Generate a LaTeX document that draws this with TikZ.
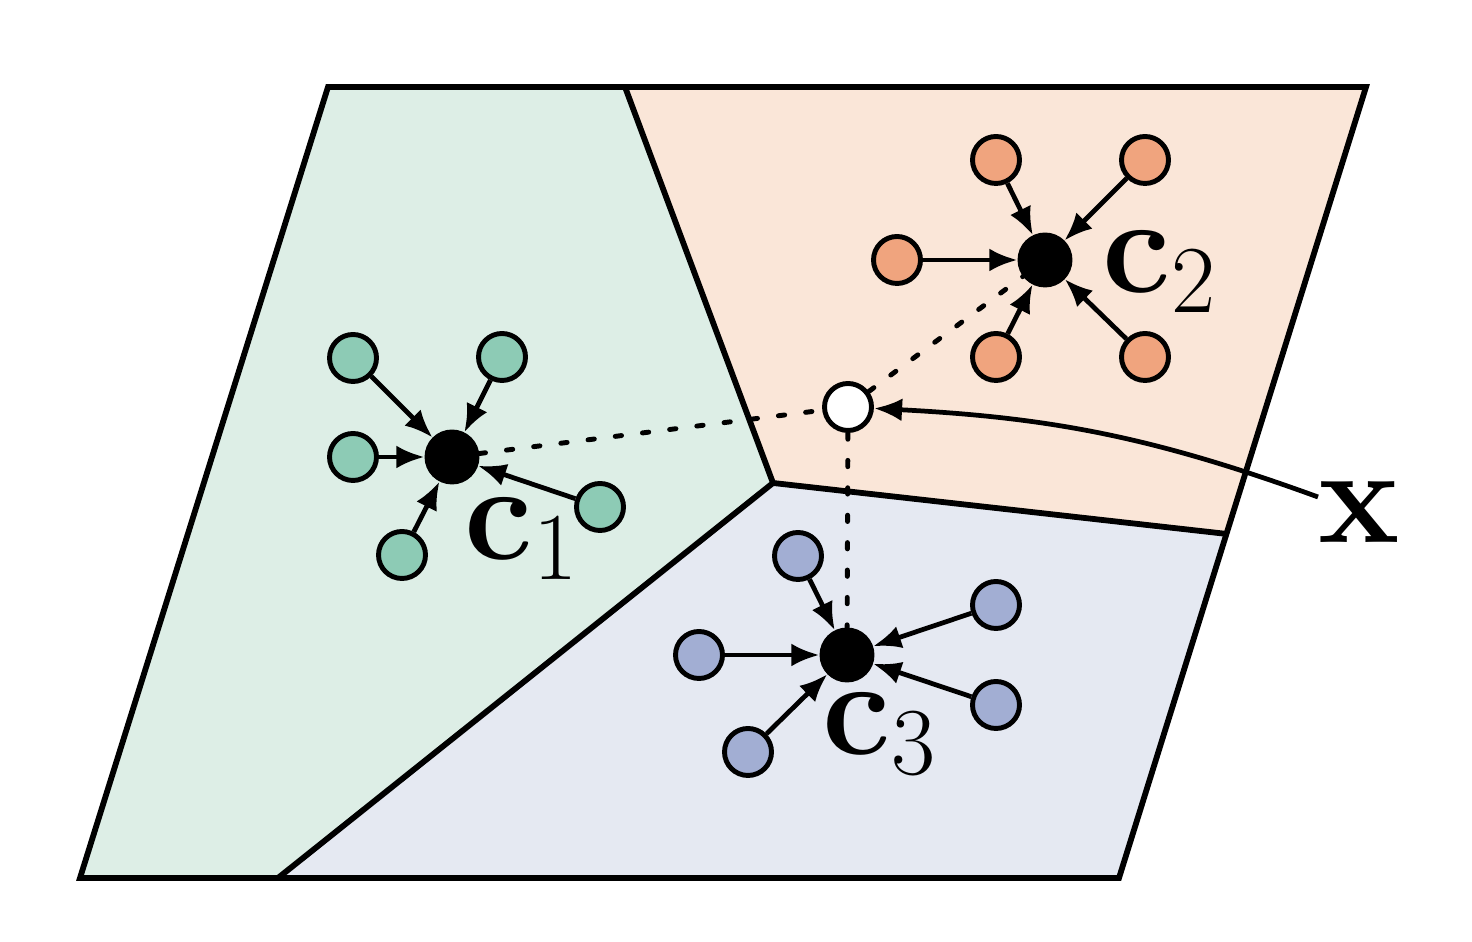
\RequirePackage{fix-cm}
\documentclass[tikz,border=0pt]{standalone}
\usepackage{amsmath}
\usetikzlibrary{arrows.meta,calc}
\definecolor{greenbg}{HTML}{DDEEE6}
\definecolor{greenpt}{HTML}{8DCBB5}
\definecolor{orangebg}{HTML}{FAE6D8}
\definecolor{orangept}{HTML}{F0A47E}
\definecolor{bluebg}{HTML}{E5E9F2}
\definecolor{bluept}{HTML}{A2AED3}
\tikzstyle{point} = [circle, minimum size=.47cm, inner sep=0pt, draw=black, line width=1.4pt]
\tikzstyle{centroid} = [point, fill=black, minimum size=.5cm]
\tikzstyle{edge} = [line width=1.65pt]
\tikzstyle{pull} = [-{Latex[length=8pt,width=6.5pt]}, line width=1.35pt]
\tikzstyle{assign} = [line width=1.4pt, dash pattern=on 1.8pt off 6pt, line cap=round]
\tikzstyle{bigtext} = [font=\fontsize{39}{44}\selectfont, inner sep=0pt]
\newcommand{\gn}[2]{\node [point, fill=greenpt] (#1) at (#2) {};}
\newcommand{\on}[2]{\node [point, fill=orangept] (#1) at (#2) {};}
\newcommand{\bn}[2]{\node [point, fill=bluept] (#1) at (#2) {};}
\begin{document}
\begin{tikzpicture}%
	\useasboundingbox (0,0) rectangle (14.72,9.42);%
	% cells
	\coordinate (tl) at (3.28,8.55);%
	\coordinate (tr) at (13.66,8.55);%
	\coordinate (br) at (11.19,0.64);%
	\coordinate (bl) at (0.80,0.64);%
	\coordinate (ta) at (6.25,8.55);%
	\coordinate (bb) at (2.78,0.64);%
	\coordinate (mid) at (7.73,4.59);%
	\coordinate (cr) at ($(tr)!0.565!(br)$);%
	\fill[greenbg] (tl) -- (ta) -- (mid) -- (bb) -- (bl) -- cycle;%
	\fill[orangebg] (ta) -- (tr) -- (cr) -- (mid) -- cycle;%
	\fill[bluebg] (mid) -- (cr) -- (br) -- (bb) -- cycle;%
	\draw[edge] (tl) -- (tr) -- (br) -- (bl) -- cycle;%
	\draw[edge] (ta) -- (mid) -- (bb);%
	\draw[edge] (mid) -- (cr);%
	% centroids and query
	\node [centroid] (c1) at (4.52,4.85) {};%
	\node [centroid] (c2) at (10.45,6.82) {};%
	\node [centroid] (c3) at (8.47,2.87) {};%
	\node [point, fill=white] (x) at (8.48,5.35) {};%
	\gn{g1}{3.53,5.84} \gn{g2}{5.02,5.85} \gn{g3}{3.53,4.85} \gn{g4}{6.00,4.35} \gn{g5}{4.02,3.87}%
	\on{o1}{9.96,7.82} \on{o2}{11.45,7.82} \on{o3}{8.97,6.82} \on{o4}{9.96,5.85} \on{o5}{11.45,5.85}%
	\bn{b1}{7.98,3.86} \bn{b2}{9.96,3.37} \bn{b3}{6.99,2.87} \bn{b4}{9.96,2.37} \bn{b5}{7.48,1.90}%
	\foreach \p in {g1,g2,g3,g4,g5} \draw[pull] (\p) -- (c1);%
	\foreach \p in {o1,o2,o3,o4,o5} \draw[pull] (\p) -- (c2);%
	\foreach \p in {b1,b2,b3,b4,b5} \draw[pull] (\p) -- (c3);%
	\draw[assign] (c1) -- (x);%
	\draw[assign] (x) -- (c2);%
	\draw[assign] (x) -- (c3);%
	% labels
	\node [bigtext] (l1) at (5.22,4.03) {$\mathbf{c}_1$};%
	\node [bigtext] (l2) at (11.60,6.70) {$\mathbf{c}_2$};%
	\node [bigtext] (l3) at (8.80,2.08) {$\mathbf{c}_3$};%
	\node [bigtext] (lx) at (13.59,4.30) {$\mathbf{x}$};%
	\coordinate (xs) at (13.18,4.45);%
	\draw[pull] (xs) to[out=160,in=-3] (x);%
\end{tikzpicture}
\end{document}
